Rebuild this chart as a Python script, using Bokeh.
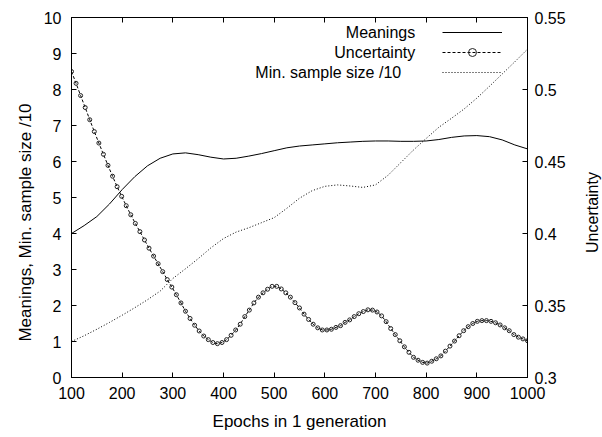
import math
from bokeh.plotting import figure
from bokeh.layouts import row
from bokeh.models import (Range1d, LinearAxis, FixedTicker, CustomJSTickFormatter,
                          Legend, LegendItem, Label)
from bokeh.embed import file_html
from bokeh.resources import INLINE

# ---------------- data ----------------
# Uncertainty, sampled every 9 epochs from 100 to 1000 (101 points)
epochs_unc = list(range(100, 1001, 9))
uncertainty = [
    0.5125, 0.5043, 0.4958, 0.4875, 0.4790, 0.4708, 0.4628, 0.4550, 0.4473, 0.4398,
    0.4325, 0.4258, 0.4193, 0.4130, 0.4070, 0.4013, 0.3955, 0.3898, 0.3843, 0.3790,
    0.3735, 0.3680, 0.3628, 0.3575, 0.3518, 0.3460, 0.3410, 0.3363, 0.3323, 0.3288,
    0.3263, 0.3243, 0.3235, 0.3243, 0.3263, 0.3293, 0.3330, 0.3370, 0.3423, 0.3468,
    0.3518, 0.3558, 0.3588, 0.3613, 0.3633, 0.3633, 0.3615, 0.3588, 0.3558, 0.3520,
    0.3483, 0.3440, 0.3403, 0.3370, 0.3345, 0.3330, 0.3330, 0.3335, 0.3348, 0.3360,
    0.3383, 0.3400, 0.3423, 0.3443, 0.3458, 0.3470, 0.3468, 0.3455, 0.3428, 0.3388,
    0.3340, 0.3298, 0.3255, 0.3213, 0.3175, 0.3140, 0.3120, 0.3105, 0.3100, 0.3113,
    0.3130, 0.3150, 0.3183, 0.3218, 0.3253, 0.3290, 0.3325, 0.3353, 0.3375, 0.3390,
    0.3395, 0.3395, 0.3390, 0.3380, 0.3365, 0.3345, 0.3325, 0.3298, 0.3280, 0.3268,
    0.3255,
]

# Meanings and min. sample size /10, every 25 epochs
epochs_lines = list(range(100, 1001, 25))
meanings = [
    4.00, 4.22, 4.47, 4.82, 5.22, 5.58, 5.88, 6.09, 6.21, 6.24,
    6.19, 6.12, 6.07, 6.09, 6.15, 6.22, 6.30, 6.38, 6.43, 6.46,
    6.49, 6.52, 6.54, 6.56, 6.57, 6.57, 6.56, 6.56, 6.57, 6.61,
    6.67, 6.71, 6.72, 6.69, 6.60, 6.46, 6.35,
]
min_sample = [
    1.00, 1.16, 1.34, 1.53, 1.73, 1.94, 2.16, 2.40, 2.75, 3.02,
    3.30, 3.60, 3.86, 4.04, 4.16, 4.30, 4.44, 4.70, 4.98, 5.19,
    5.31, 5.35, 5.32, 5.28, 5.35, 5.62, 5.97, 6.32, 6.64, 6.95,
    7.20, 7.46, 7.76, 8.09, 8.43, 8.77, 9.12,
]

x_ticks = [100, 200, 300, 400, 500, 600, 700, 800, 900, 1000]
y_ticks = [0, 1, 2, 3, 4, 5, 6, 7, 8, 9, 10]
y2_ticks = [0.3, 0.35, 0.4, 0.45, 0.5, 0.55]
series_names = ["Meanings", "Uncertainty", "Min. sample size /10"]
x_title = "Epochs in 1 generation"
y_title = "Meanings, Min. sample size /10"
y2_title = "Uncertainty"

# ---------------- styling ----------------
FONT = "Liberation Sans"
FS = "16px"
FS_LABEL = "17px"
H = 437
LEFT_W = 40
RIGHT_W = 24

p = figure(frame_width=456, frame_height=360,
           x_range=Range1d(100, 1000), y_range=Range1d(0, 10),
           output_backend="svg", toolbar_location=None,
           x_axis_location=None, y_axis_location=None,
           min_border_left=69 - LEFT_W, min_border_right=53,
           min_border_top=17, min_border_bottom=60)
p.extra_y_ranges = {"u": Range1d(0.3, 0.55)}
p.grid.visible = False
p.outline_line_color = "black"
p.outline_line_alpha = 1.0
p.outline_line_width = 1
p.background_fill_color = "white"
p.border_fill_color = "white"


def style_axis(ax, standoff):
    ax.major_tick_in = 5
    ax.major_tick_out = 0
    ax.minor_tick_in = 0
    ax.minor_tick_out = 0
    ax.axis_line_color = "black"
    ax.major_tick_line_color = "black"
    ax.major_tick_line_width = 1
    ax.major_label_standoff = standoff
    ax.major_label_text_font = FONT
    ax.major_label_text_font_size = FS
    ax.major_label_text_color = "black"
    ax.axis_label_text_font = FONT
    ax.axis_label_text_font_size = FS_LABEL
    ax.axis_label_text_font_style = "normal"
    ax.axis_label_text_color = "black"


xb = LinearAxis(ticker=FixedTicker(ticks=x_ticks), axis_label=x_title)
style_axis(xb, 9)
xb.axis_label_standoff = 10
p.add_layout(xb, "below")

xt = LinearAxis(ticker=FixedTicker(ticks=x_ticks))
style_axis(xt, 0)
xt.major_label_text_font_size = "0px"
xt.major_label_text_alpha = 0
p.add_layout(xt, "above")

yl = LinearAxis(ticker=FixedTicker(ticks=y_ticks))
style_axis(yl, 10)
p.add_layout(yl, "left")

yr = LinearAxis(y_range_name="u", ticker=FixedTicker(ticks=y2_ticks),
                formatter=CustomJSTickFormatter(code="return (+tick.toFixed(2)).toString();"))
style_axis(yr, 7)
p.add_layout(yr, "right")

# ---------------- series ----------------
r_mean = p.line(epochs_lines, meanings, line_color="black", line_width=1)
r_unc_line = p.line(epochs_unc, uncertainty, y_range_name="u", line_color="black",
                    line_width=1, line_dash="3 2")
r_unc_pts = p.scatter(epochs_unc, uncertainty, y_range_name="u", marker="circle", size=4,
                      fill_color=None, line_color="#222222", line_width=1)
r_min = p.line(epochs_lines, min_sample, line_color="black", line_width=1, line_dash="1 2")

# ---------------- legend (samples) ----------------
legend = Legend(items=[
    LegendItem(label=" ", renderers=[r_mean]),
    LegendItem(label=" ", renderers=[r_unc_line, r_unc_pts]),
    LegendItem(label=" ", renderers=[r_min]),
], location=(371, 295), glyph_width=60, glyph_height=20, label_width=0,
    label_standoff=0, label_text_font_size="1px", padding=0, spacing=0, margin=0,
    background_fill_alpha=0, border_line_alpha=0)
p.add_layout(legend)

# legend texts (right aligned, to the left of the samples)
label_x = [778.4, 778.4, 750.7]
label_y = [9.575, 9.019, 8.464]
for name, lx, ly in zip(series_names, label_x, label_y):
    p.add_layout(Label(x=lx, y=ly, text=name, text_align="right", text_baseline="middle",
                       text_font=FONT, text_font_size=FS, text_color="black"))


# ---------------- side strips carrying the vertical axis titles ----------------
def title_strip(width, text, fx, fy, size):
    s = figure(frame_width=width, frame_height=H, x_range=Range1d(0, 1), y_range=Range1d(0, 1),
               output_backend="svg", toolbar_location=None,
               x_axis_location=None, y_axis_location=None,
               min_border=0, min_border_left=0, min_border_right=0,
               min_border_top=0, min_border_bottom=0)
    s.grid.visible = False
    s.outline_line_color = None
    s.background_fill_color = "white"
    s.border_fill_color = "white"
    s.add_layout(Label(x=fx, y=fy, text=text, angle=math.pi / 2,
                       text_align="center", text_baseline="middle",
                       text_font=FONT, text_font_size=size, text_color="black"))
    return s


left_strip = title_strip(LEFT_W, y_title, 25 / LEFT_W, (H - 205) / H, FS_LABEL)
right_strip = title_strip(RIGHT_W, y2_title, 0.5, (H - 195) / H, FS)

layout = row(left_strip, p, right_strip, spacing=0)

open("out.html", "w").write(file_html(layout, INLINE))
